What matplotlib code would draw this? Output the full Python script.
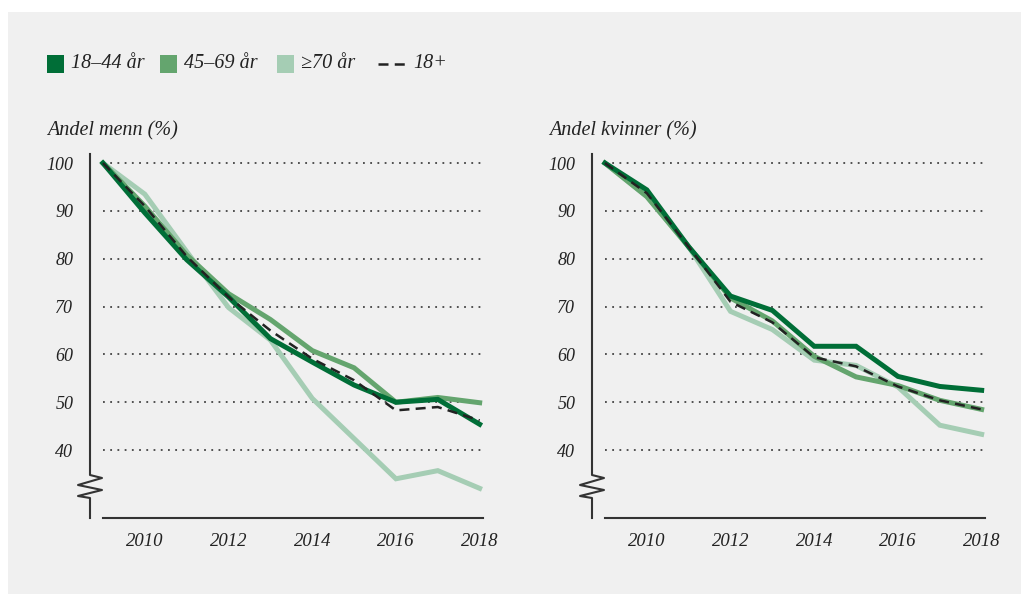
import numpy as np
import matplotlib.pyplot as plt
import matplotlib.transforms as mtransforms
from matplotlib.patches import Rectangle
from matplotlib.lines import Line2D

# --------------------------------------------------------------
# Data (index, 2009 = 100)
# --------------------------------------------------------------
years = [2009, 2010, 2011, 2012, 2013, 2014, 2015, 2016, 2017, 2018]
xticks = [2010, 2012, 2014, 2016, 2018]
yticks = [40, 50, 60, 70, 80, 90, 100]

series_names = ["18–44 år", "45–69 år", "≥70 år", "18+"]

men_18_44 = [100, 89.6, 79.8, 72.0, 63.3, 58.4, 53.6, 50.0, 50.6, 45.4]
men_45_69 = [100, 91.0, 80.8, 72.7, 67.3, 60.8, 57.2, 50.0, 51.0, 49.9]
men_70 = [100, 93.5, 81.5, 69.8, 63.0, 50.8, 42.4, 34.0, 35.7, 32.0]
men_all = [100, 91.0, 80.5, 72.0, 65.0, 59.1, 54.6, 48.3, 49.0, 46.2]

women_18_44 = [100, 94.4, 82.5, 72.2, 69.2, 61.7, 61.7, 55.4, 53.3, 52.5]
women_45_69 = [100, 93.0, 82.5, 71.8, 67.0, 59.6, 55.3, 53.5, 50.4, 48.5]
women_70 = [100, 93.0, 82.5, 69.0, 65.2, 58.8, 57.7, 53.2, 45.2, 43.3]
women_all = [100, 93.7, 82.5, 71.0, 66.7, 59.4, 57.5, 53.3, 50.4, 48.5]

panel_titles = ["Andel menn (%)", "Andel kvinner (%)"]

# --------------------------------------------------------------
# Style
# --------------------------------------------------------------
plt.rcParams["font.family"] = ["Liberation Serif", "DejaVu Serif"]
plt.rcParams["font.style"] = "italic"

c_dark = "#006E37"
c_mid = "#64A56E"
c_light = "#A5CDB4"
c_dash = "#222222"
bg = "#F0F0F0"
text_col = "#222222"

fig = plt.figure(figsize=(10.21, 5.94), dpi=100, facecolor="white")
fig.patches.append(Rectangle((8 / 1021, 0), 1, 1 - 12 / 594, transform=fig.transFigure,
                             facecolor=bg, edgecolor="none", zorder=-10))

ylim = (25.8, 101.9)
xlim = (2008.69, 2018.08)
ax_bottom = (594 - 518) / 594
ax_height = (518 - 154) / 594

panels = [
    (90 / 1021, (men_70, men_45_69, men_18_44, men_all)),
    (592 / 1021, (women_70, women_45_69, women_18_44, women_all)),
]

for i, (left, (s70, s45, s18, sall)) in enumerate(panels):
    ax = fig.add_axes([left, ax_bottom, 393 / 1021, ax_height])
    ax.set_facecolor("none")
    ax.set_xlim(*xlim)
    ax.set_ylim(*ylim)

    # dotted gridlines
    for y in yticks:
        ax.plot([2009, xlim[1]], [y, y], linestyle=(0, (1, 3)), color="#444444",
                linewidth=1.3, zorder=1)

    ax.plot(years, s70, color=c_light, linewidth=3.6, solid_joinstyle="miter", zorder=2)
    ax.plot(years, s45, color=c_mid, linewidth=3.6, solid_joinstyle="miter", zorder=3)
    ax.plot(years, s18, color=c_dark, linewidth=3.6, solid_joinstyle="miter", zorder=4)
    ax.plot(years, sall, color=c_dash, linewidth=1.8, linestyle=(0, (4, 2.5)), zorder=5)

    for sp in ["top", "right", "left"]:
        ax.spines[sp].set_visible(False)
    ax.spines["bottom"].set_bounds(2009, xlim[1])
    ax.spines["bottom"].set_color("#333333")
    ax.spines["bottom"].set_linewidth(1.5)

    # left spine with axis break
    tr = mtransforms.blended_transform_factory(ax.transAxes, ax.transData)
    ppu = 364 / (ylim[1] - ylim[0])
    dx = 12 / 393
    ypx = [154, 475, 478, 485, 490, 496, 498, 518]
    xs = [0, 0, dx, -dx, dx, -dx, 0, 0]
    ys = [ylim[1] - (p - 154) / ppu for p in ypx]
    ax.add_line(Line2D(xs, ys, transform=tr, color="#333333", linewidth=1.5,
                       clip_on=False))

    ax.set_xticks(xticks)
    ax.set_xticklabels([str(x) for x in xticks])
    ax.set_yticks(yticks)
    ax.set_yticklabels([str(y) for y in yticks])
    ax.tick_params(axis="both", length=0, colors=text_col)
    ax.tick_params(axis="y", pad=12, labelsize=13)
    ax.tick_params(axis="x", pad=11, labelsize=13.5)

    fig.text(left - 43 / 1021, 1 - 131 / 594, panel_titles[i], fontsize=14.5,
             color=text_col, ha="left", va="center")

# --------------------------------------------------------------
# Legend
# --------------------------------------------------------------
leg_y = 1 - 64 / 594
sq_w = 17 / 1021
sq_h = 17 / 594
leg_colors = [c_dark, c_mid, c_light]
sq_x = [47, 160, 277]
for name, col, x in zip(series_names[:3], leg_colors, sq_x):
    fig.patches.append(Rectangle((x / 1021, leg_y - sq_h / 2), sq_w, sq_h,
                                 transform=fig.transFigure, facecolor=col,
                                 edgecolor="none"))
    fig.text((x + 24) / 1021, leg_y, name, fontsize=14.5, color=text_col,
             ha="left", va="center")
fig.lines.append(Line2D([378 / 1021, 407 / 1021], [leg_y, leg_y],
                        transform=fig.transFigure, color=c_dash, linewidth=1.8,
                        linestyle=(0, (4, 2.5))))
fig.text(413 / 1021, leg_y, series_names[3], fontsize=14.5, color=text_col,
         ha="left", va="center")

fig.savefig("out.png", dpi=100, facecolor=fig.get_facecolor())
